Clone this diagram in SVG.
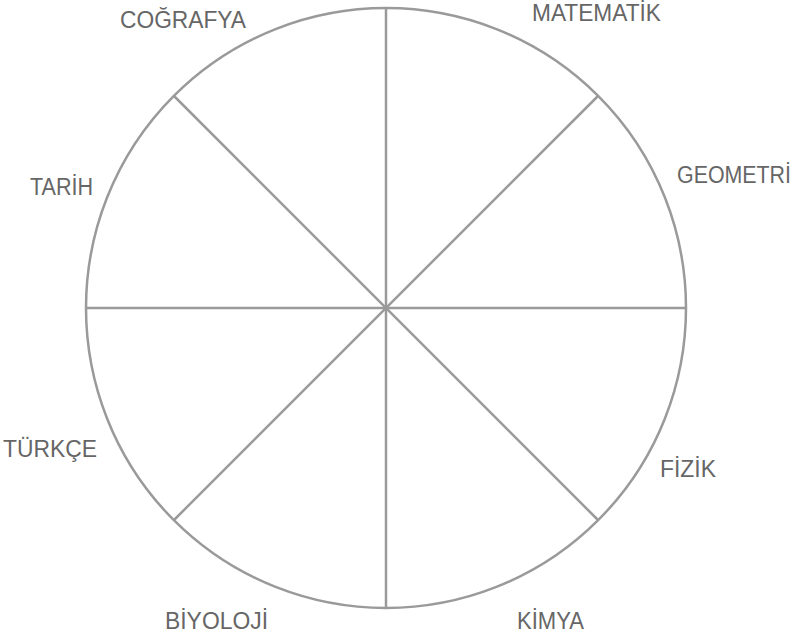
<svg xmlns="http://www.w3.org/2000/svg" width="804" height="633" viewBox="0 0 804 633">
<style>
.ln{stroke:#9a9a9a;stroke-width:2.5;fill:none}
.lb{font-family:"Liberation Sans",Arial,sans-serif;font-size:23px;fill:#666}
</style>
<rect width="804" height="633" fill="#fff"/>
<g id="connectors">
<circle class="ln" cx="386" cy="308" r="300"/>
<line class="ln" x1="386" y1="8" x2="386" y2="608"/>
<line class="ln" x1="86" y1="308" x2="686" y2="308"/>
<line class="ln" x1="174" y1="96" x2="598" y2="520"/>
<line class="ln" x1="598" y1="96" x2="174" y2="520"/>
</g>
<g id="cografya"><text class="lb" x="120" y="28" textLength="126" lengthAdjust="spacingAndGlyphs">COĞRAFYA</text></g>
<g id="matematik"><text class="lb" x="532" y="21" textLength="129" lengthAdjust="spacingAndGlyphs">MATEMATİK</text></g>
<g id="geometri"><text class="lb" x="677" y="183" textLength="114" lengthAdjust="spacingAndGlyphs">GEOMETRİ</text></g>
<g id="tarih"><text class="lb" x="30" y="195" textLength="63" lengthAdjust="spacingAndGlyphs">TARİH</text></g>
<g id="turkce"><text class="lb" x="3" y="457" textLength="94" lengthAdjust="spacingAndGlyphs">TÜRKÇE</text></g>
<g id="fizik"><text class="lb" x="660" y="477" textLength="56" lengthAdjust="spacingAndGlyphs">FİZİK</text></g>
<g id="biyoloji"><text class="lb" x="165" y="629" textLength="103" lengthAdjust="spacingAndGlyphs">BİYOLOJİ</text></g>
<g id="kimya"><text class="lb" x="517" y="629" textLength="67" lengthAdjust="spacingAndGlyphs">KİMYA</text></g>
</svg>
